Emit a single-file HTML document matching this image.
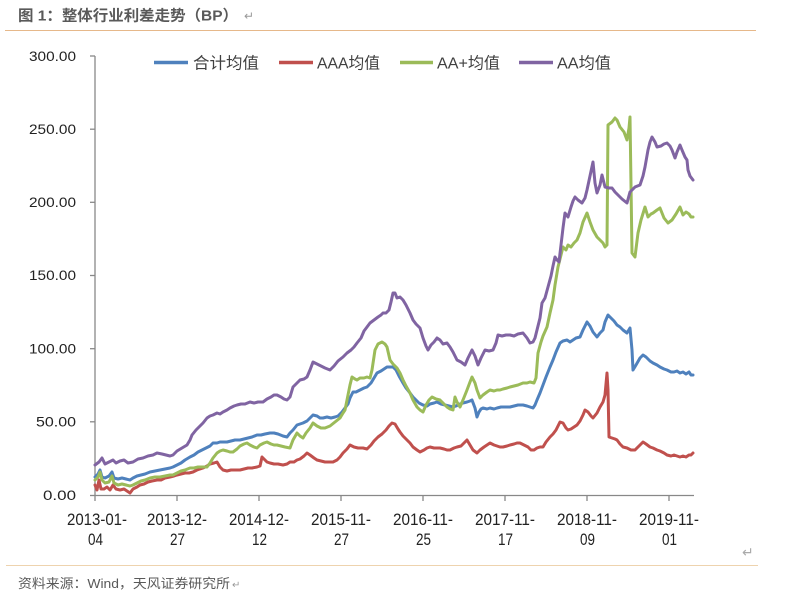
<!DOCTYPE html>
<html><head><meta charset="utf-8"><style>
html,body{margin:0;padding:0;background:#fff;}
svg{display:block;}
text{font-family:"Liberation Sans","Noto Sans CJK SC",sans-serif;}
</style></head><body>
<svg width="800" height="601" viewBox="0 0 800 601" xmlns="http://www.w3.org/2000/svg">
<rect width="800" height="601" fill="#fff"/>
<text x="18" y="20.5" font-size="15" font-weight="bold" fill="#595959" textLength="220" lengthAdjust="spacingAndGlyphs">图 1：整体行业利差走势（BP）</text>
<text x="244" y="20" font-size="12" fill="#999">↵</text>
<line x1="5" y1="30.5" x2="756" y2="30.5" stroke="#E6B88A" stroke-width="1"/>

<!-- legend -->
<line x1="154" y1="62.5" x2="188" y2="62.5" stroke="#4F81BD" stroke-width="3.5"/>
<text x="193" y="68.5" font-size="16" fill="#404040" textLength="66" lengthAdjust="spacingAndGlyphs">合计均值</text>
<line x1="279" y1="62.5" x2="313" y2="62.5" stroke="#C0504D" stroke-width="3.5"/>
<text x="317" y="68.5" font-size="16" fill="#404040" textLength="63" lengthAdjust="spacingAndGlyphs">AAA均值</text>
<line x1="400" y1="62.5" x2="433" y2="62.5" stroke="#9BBB59" stroke-width="3.5"/>
<text x="437" y="68.5" font-size="16" fill="#404040" textLength="63" lengthAdjust="spacingAndGlyphs">AA+均值</text>
<line x1="519" y1="62.5" x2="553" y2="62.5" stroke="#8064A2" stroke-width="3.5"/>
<text x="557" y="68.5" font-size="16" fill="#404040" textLength="54" lengthAdjust="spacingAndGlyphs">AA均值</text>

<!-- y axis -->
<g stroke="#888" stroke-width="1.3">
<line x1="95" y1="56" x2="95" y2="495.5"/>
<line x1="90" y1="56" x2="95" y2="56"/>
<line x1="90" y1="129.2" x2="95" y2="129.2"/>
<line x1="90" y1="202.3" x2="95" y2="202.3"/>
<line x1="90" y1="275.5" x2="95" y2="275.5"/>
<line x1="90" y1="348.7" x2="95" y2="348.7"/>
<line x1="90" y1="421.8" x2="95" y2="421.8"/>
<line x1="90" y1="495.5" x2="95" y2="495.5"/>
<line x1="95" y1="495.5" x2="694" y2="495.5"/>
<line x1="95" y1="495.5" x2="95" y2="501"/>
<line x1="177" y1="495.5" x2="177" y2="501"/>
<line x1="259" y1="495.5" x2="259" y2="501"/>
<line x1="341" y1="495.5" x2="341" y2="501"/>
<line x1="423" y1="495.5" x2="423" y2="501"/>
<line x1="505" y1="495.5" x2="505" y2="501"/>
<line x1="587" y1="495.5" x2="587" y2="501"/>
<line x1="669" y1="495.5" x2="669" y2="501"/>
</g>
<g font-size="13.5" fill="#222" text-anchor="end">
<text x="76" y="61" textLength="47" lengthAdjust="spacingAndGlyphs">300.00</text>
<text x="76" y="134" textLength="47" lengthAdjust="spacingAndGlyphs">250.00</text>
<text x="76" y="207" textLength="47" lengthAdjust="spacingAndGlyphs">200.00</text>
<text x="76" y="280" textLength="47" lengthAdjust="spacingAndGlyphs">150.00</text>
<text x="76" y="353.5" textLength="47" lengthAdjust="spacingAndGlyphs">100.00</text>
<text x="76" y="426.5" textLength="40" lengthAdjust="spacingAndGlyphs">50.00</text>
<text x="76" y="500" textLength="33" lengthAdjust="spacingAndGlyphs">0.00</text>
</g>
<g font-size="17" fill="#222">
<text x="67" y="525" textLength="60" lengthAdjust="spacingAndGlyphs">2013-01-</text>
<text x="88" y="545" textLength="15" lengthAdjust="spacingAndGlyphs">04</text>
<text x="147" y="525" textLength="60" lengthAdjust="spacingAndGlyphs">2013-12-</text>
<text x="170" y="545" textLength="15" lengthAdjust="spacingAndGlyphs">27</text>
<text x="229" y="525" textLength="60" lengthAdjust="spacingAndGlyphs">2014-12-</text>
<text x="252" y="545" textLength="15" lengthAdjust="spacingAndGlyphs">12</text>
<text x="311" y="525" textLength="60" lengthAdjust="spacingAndGlyphs">2015-11-</text>
<text x="334" y="545" textLength="15" lengthAdjust="spacingAndGlyphs">27</text>
<text x="393" y="525" textLength="60" lengthAdjust="spacingAndGlyphs">2016-11-</text>
<text x="416" y="545" textLength="15" lengthAdjust="spacingAndGlyphs">25</text>
<text x="475" y="525" textLength="60" lengthAdjust="spacingAndGlyphs">2017-11-</text>
<text x="498" y="545" textLength="15" lengthAdjust="spacingAndGlyphs">17</text>
<text x="557" y="525" textLength="60" lengthAdjust="spacingAndGlyphs">2018-11-</text>
<text x="580" y="545" textLength="15" lengthAdjust="spacingAndGlyphs">09</text>
<text x="639" y="525" textLength="60" lengthAdjust="spacingAndGlyphs">2019-11-</text>
<text x="662" y="545" textLength="15" lengthAdjust="spacingAndGlyphs">01</text>
</g>

<g fill="none" stroke-width="3" stroke-linejoin="round" stroke-linecap="round">
<polyline stroke="#4F81BD" points="95,477 98,474 100,470 102,477 105,478 109,476 112,472 114,478 118,479 122,478 126,479 130,480 133,478 137,476 141,475 145,474 150,472 155,471 160,470 165,469 170,468 173,467 177,465 181,463 185,460 190,457 194,455 198,452 202,450 206,448 210,446 213,443 217,443 220,442 223,442 227,442 231,441 235,440 240,440 244,439 248,438 252,437 257,435 261,435 265,434 270,433 274,433 278,434 283,436 287,437 290,433 293,430 297,425 300,424 303,423 307,421 310,418 313,415 317,416 320,418 323,418 327,417 331,418 335,417 338,416 342,412 345,408 348,404 350,398 353,392 356,392 360,390 364,388 367,387 371,383 374,378 377,373 381,371 384,369 387,367 390,367 393,367 396,370 399,376 403,383 406,388 410,393 413,397 416,400 419,403 423,405 427,406 430,404 434,403 437,402 441,404 445,405 449,406 453,407 456,406 460,404 463,403 467,402 470,401 472,400 475,408 477,417 479,412 481,409 483,408 487,409 490,408 494,409 497,408 501,407 505,407 510,407 514,406 518,405 523,405 527,406 530,407 533,408 535,405 537,400 540,393 543,385 546,377 550,367 553,360 556,352 560,343 563,341 567,340 570,342 573,340 576,338 580,337 583,330 587,322 590,326 593,332 597,337 600,333 603,330 605,322 608,315 611,318 614,321 617,325 620,327 623,330 627,333 630,328 632,350 633,370 636,365 640,358 643,355 646,357 650,361 653,363 657,365 660,367 664,369 667,370 671,372 674,372 677,371 680,373 683,372 686,374 689,372 691,375 693,375"/>
<polyline stroke="#C0504D" points="95,485 97,490 99,480 101,489 104,489 107,487 110,490 113,485 116,489 120,490 124,489 127,491 130,493 133,489 137,487 140,485 144,484 148,482 152,481 157,480 161,480 165,478 170,477 174,476 177,475 181,474 185,473 189,473 193,472 197,470 200,469 203,468 207,466 210,464 214,463 217,462 220,467 223,470 227,471 231,470 235,470 240,470 244,469 248,468 252,468 257,467 260,466 262,457 264,459 267,462 270,463 274,464 278,464 283,465 287,464 290,462 294,462 297,460 300,459 304,456 307,453 310,455 314,458 317,460 321,461 325,462 329,462 333,462 337,460 340,457 343,453 347,449 350,445 354,447 358,448 363,448 367,449 371,445 374,441 378,437 382,434 386,430 389,426 392,423 395,424 398,429 400,432 403,436 407,440 410,443 413,447 417,450 420,452 424,450 427,448 430,447 434,448 437,448 440,448 444,449 447,450 450,450 454,448 457,447 461,446 464,443 467,440 470,445 473,450 477,453 480,450 484,447 487,445 490,443 494,445 497,446 500,447 503,447 507,446 510,445 514,444 517,443 520,443 524,445 528,447 531,450 534,450 537,448 540,447 543,447 546,442 550,437 553,434 556,430 560,422 563,423 566,428 568,430 571,429 574,427 577,425 580,421 583,415 585,410 588,412 591,416 593,418 597,413 600,407 603,402 605,395 607,373 608,390 609,437 612,438 615,439 617,440 620,444 623,447 627,448 631,450 635,450 639,446 643,442 646,444 650,447 653,448 657,450 660,451 664,453 667,455 671,456 674,455 677,456 680,457 683,456 686,457 689,455 691,455 693,453"/>
<polyline stroke="#9BBB59" points="95,480 98,477 100,472 102,480 105,483 109,482 112,476 114,483 118,485 122,484 126,485 130,486 133,485 137,483 141,481 145,480 150,478 155,477 160,477 165,476 170,475 173,475 177,473 181,471 185,470 190,468 194,468 198,467 202,467 207,467 210,463 213,458 217,453 220,451 223,450 227,451 230,452 233,452 237,449 240,446 244,444 247,443 250,445 254,447 257,448 260,445 264,443 267,442 271,444 274,445 277,445 281,446 285,447 290,448 293,440 297,433 300,436 303,438 306,433 310,428 313,423 317,426 321,428 325,428 330,426 335,422 340,418 343,413 345,410 348,395 350,385 352,377 355,379 357,380 360,378 364,378 367,377 370,378 372,370 375,350 378,344 382,342 385,344 387,347 390,360 393,364 397,368 400,373 403,380 406,386 410,393 413,400 417,407 420,410 423,412 426,405 429,400 432,397 436,399 440,400 443,403 447,407 450,409 453,410 455,397 457,402 460,407 463,400 467,390 470,382 472,377 475,383 477,390 480,398 483,395 487,392 490,390 494,391 497,390 500,390 503,389 507,388 510,387 514,386 518,385 523,383 527,383 530,382 534,383 536,378 538,353 541,342 543,336 547,327 550,313 553,300 555,285 558,267 561,255 563,247 566,250 568,245 571,247 574,243 577,240 580,233 583,222 587,213 590,222 593,230 597,237 600,240 603,243 605,247 607,245 608,125 612,122 615,118 617,120 620,127 624,132 627,140 629,128 630,117 632,253 635,257 638,233 641,220 645,207 648,217 651,214 653,213 657,210 660,208 664,218 668,223 672,220 676,214 680,207 683,215 686,212 689,214 691,217 693,217"/>
<polyline stroke="#8064A2" points="95,465 99,462 102,458 105,464 109,462 113,460 116,463 120,461 124,460 128,463 133,462 138,459 143,458 148,456 153,455 157,453 162,454 166,455 170,456 173,455 177,451 182,448 187,445 190,440 192,435 196,430 200,426 203,423 207,418 210,416 213,415 217,413 220,414 223,412 227,410 230,408 234,406 237,405 241,404 245,404 250,402 254,403 258,402 263,402 267,399 271,397 274,395 277,395 281,397 284,399 287,400 290,397 293,387 297,383 300,380 304,379 307,377 310,370 313,362 317,364 321,366 325,368 330,370 334,366 338,361 343,357 347,353 351,350 354,347 357,343 361,338 364,331 367,327 370,323 374,320 378,317 381,315 383,313 386,313 389,310 391,302 393,293 395,293 397,298 400,297 403,300 406,305 410,313 413,320 416,324 420,328 423,338 426,346 428,350 431,345 434,342 437,338 440,340 443,344 447,343 450,347 453,352 457,360 461,362 465,365 468,358 472,350 475,356 478,365 481,358 485,350 489,351 493,350 496,343 498,335 502,336 506,335 510,335 514,336 518,334 523,333 527,338 530,343 533,342 535,338 537,330 540,318 542,303 545,298 548,287 551,276 553,266 555,257 557,260 559,262 561,245 563,228 565,213 568,217 571,207 573,201 575,197 578,200 582,203 585,198 587,190 590,176 593,162 595,183 597,193 600,185 602,175 605,187 609,188 612,188 615,192 618,195 622,199 627,203 630,192 635,187 640,185 643,176 645,167 648,150 650,142 652,137 655,142 657,147 661,146 664,144 667,143 670,146 672,150 675,158 677,152 680,145 682,150 685,157 687,160 688,170 690,176 693,180"/>
</g>

<text x="742" y="557" font-size="14" fill="#aaa">↵</text>
<line x1="6" y1="565.5" x2="758" y2="565.5" stroke="#EED3AE" stroke-width="1"/>
<text x="18" y="588" font-size="13" fill="#595959" textLength="212" lengthAdjust="spacingAndGlyphs">资料来源：Wind，天风证券研究所</text>
<text x="232" y="588" font-size="10" fill="#999">↵</text>
</svg>
</body></html>
